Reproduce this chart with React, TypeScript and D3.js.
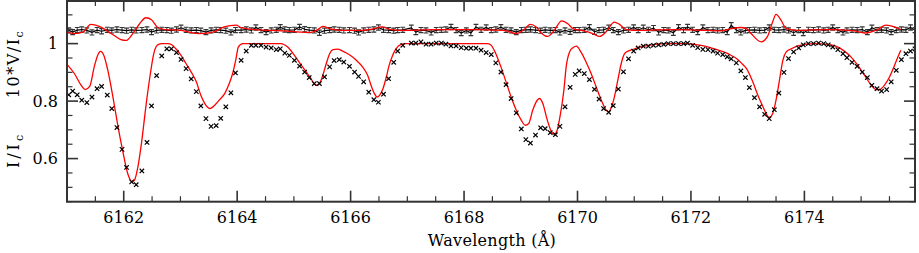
import React, { useEffect, useRef } from "react";
import * as d3 from "d3";

// observed Stokes I (crosses)
const obsWave = [
  6161.03, 6161.1, 6161.18, 6161.26, 6161.35, 6161.44, 6161.53, 6161.61, 6161.71, 6161.79,
  6161.88, 6161.97, 6162.05, 6162.14, 6162.22, 6162.32, 6162.41, 6162.49, 6162.58, 6162.67,
  6162.76, 6162.84, 6162.93, 6163.01, 6163.1, 6163.19, 6163.28, 6163.36, 6163.45, 6163.54,
  6163.63, 6163.71, 6163.8, 6163.89, 6163.97,
  6164.07, 6164.16, 6164.25, 6164.33, 6164.42, 6164.51, 6164.6, 6164.69, 6164.76, 6164.84,
  6164.92, 6165.01, 6165.1, 6165.19, 6165.27, 6165.36, 6165.45, 6165.54, 6165.63, 6165.71,
  6165.8, 6165.88, 6165.98, 6166.07, 6166.14, 6166.23, 6166.32, 6166.41, 6166.49, 6166.58,
  6166.67, 6166.76, 6166.83, 6166.92,
  6167.07, 6167.15, 6167.24, 6167.33, 6167.42, 6167.51, 6167.6, 6167.68, 6167.77, 6167.86,
  6167.95, 6168.04, 6168.12, 6168.21, 6168.3, 6168.39, 6168.48, 6168.56, 6168.65, 6168.74,
  6168.83, 6168.92, 6169.01, 6169.09, 6169.17, 6169.26, 6169.35, 6169.43, 6169.52, 6169.61,
  6169.69, 6169.78, 6169.87, 6169.96,
  6170.03, 6170.12, 6170.21, 6170.3, 6170.38, 6170.46, 6170.55, 6170.63, 6170.72, 6170.81,
  6170.9, 6170.99, 6171.07, 6171.16, 6171.25, 6171.34, 6171.43, 6171.52, 6171.6, 6171.69,
  6171.78, 6171.87, 6171.94, 6172.03, 6172.12, 6172.21, 6172.3, 6172.39, 6172.47, 6172.56,
  6172.64, 6172.71, 6172.8, 6172.88, 6172.96,
  6173.03, 6173.12, 6173.21, 6173.3, 6173.38, 6173.47, 6173.55, 6173.64, 6173.72, 6173.81,
  6173.9, 6173.98, 6174.07, 6174.16, 6174.25, 6174.34, 6174.42, 6174.5, 6174.59, 6174.68,
  6174.75, 6174.84, 6174.93, 6175.02, 6175.11, 6175.19, 6175.28, 6175.36, 6175.45, 6175.53,
  6175.62, 6175.71, 6175.79, 6175.87, 6175.95,
];

const obsI = [
  0.822, 0.835, 0.822, 0.803, 0.795, 0.814, 0.843, 0.851, 0.821, 0.774,
  0.708, 0.632, 0.569, 0.519, 0.509, 0.557, 0.656, 0.783, 0.889, 0.957,
  0.982, 0.982, 0.969, 0.945, 0.913, 0.877, 0.833, 0.783, 0.739, 0.712,
  0.715, 0.74, 0.78, 0.829, 0.898,
  0.942, 0.974, 0.994, 0.994, 0.994, 0.988, 0.985, 0.979, 0.982, 0.967,
  0.959, 0.942, 0.922, 0.901, 0.882, 0.861, 0.861, 0.884, 0.919, 0.941,
  0.944, 0.936, 0.921, 0.901, 0.886, 0.867, 0.831, 0.805, 0.796, 0.824,
  0.878, 0.935, 0.974, 0.994,
  1.002, 1.002, 1.006, 0.998, 0.998, 1.002, 1.002, 0.998, 0.992, 0.992,
  0.986, 0.984, 0.984, 0.984, 0.977, 0.969, 0.962, 0.933, 0.901, 0.857,
  0.809, 0.759, 0.703, 0.666, 0.654, 0.682, 0.707, 0.704, 0.69, 0.683,
  0.712, 0.78, 0.848, 0.893,
  0.905, 0.896, 0.875, 0.841, 0.807, 0.774, 0.761, 0.784, 0.842, 0.902,
  0.947, 0.974, 0.985, 0.991, 0.991, 0.994, 0.996, 0.997, 1.0, 1.0,
  1.0, 1.0, 1.002, 0.994, 0.986, 0.98, 0.979, 0.974, 0.967, 0.962,
  0.954, 0.947, 0.933, 0.905, 0.882,
  0.847, 0.812, 0.78, 0.754, 0.739, 0.77, 0.828, 0.9, 0.948, 0.971,
  0.985, 0.996, 1.0, 1.0, 1.002, 1.0, 0.996, 0.988, 0.979, 0.965,
  0.951, 0.935, 0.921, 0.901, 0.882, 0.855, 0.843, 0.835, 0.84, 0.867,
  0.907, 0.944, 0.965, 0.974, 0.982,
];

// observed 10*V/Ic (shifted up), same wavelengths
const obsV = [
  1.046, 1.04, 1.047, 1.049, 1.046, 1.039, 1.047, 1.043, 1.048, 1.046,
  1.049, 1.047, 1.045, 1.048, 1.046, 1.047, 1.049, 1.04, 1.046, 1.048,
  1.047, 1.045, 1.049, 1.055, 1.048, 1.046, 1.047, 1.045, 1.04, 1.046,
  1.048, 1.047, 1.045, 1.039, 1.047,
  1.047, 1.049, 1.046, 1.056, 1.047, 1.04, 1.046, 1.048, 1.057, 1.049,
  1.047, 1.048, 1.058, 1.05, 1.047, 1.046, 1.038, 1.045, 1.047, 1.049,
  1.048, 1.046, 1.047, 1.045, 1.039, 1.046, 1.048, 1.049, 1.056, 1.048,
  1.047, 1.045, 1.047, 1.048,
  1.055, 1.04, 1.047, 1.046, 1.039, 1.047, 1.048, 1.049, 1.058, 1.047,
  1.037, 1.046, 1.037, 1.058, 1.048, 1.056, 1.047, 1.049, 1.057, 1.048,
  1.046, 1.04, 1.047, 1.048, 1.049, 1.047, 1.045, 1.048, 1.046, 1.047,
  1.039, 1.046, 1.041, 1.047,
  1.047, 1.048, 1.057, 1.041, 1.047, 1.048, 1.055, 1.047, 1.04, 1.046,
  1.048, 1.056, 1.047, 1.055, 1.048, 1.054, 1.039, 1.047, 1.046, 1.038,
  1.057, 1.047, 1.058, 1.048, 1.04, 1.056, 1.047, 1.048, 1.046, 1.047,
  1.04, 1.064, 1.047, 1.039, 1.046,
  1.047, 1.048, 1.046, 1.047, 1.056, 1.048, 1.047, 1.049, 1.046, 1.038,
  1.047, 1.037, 1.048, 1.047, 1.049, 1.046, 1.048, 1.056, 1.047, 1.039,
  1.046, 1.048, 1.047, 1.049, 1.04, 1.055, 1.047, 1.048, 1.046, 1.04,
  1.047, 1.049, 1.048, 1.056, 1.047,
];
const V_ERR = 0.009;

// synthetic Stokes I (red)
const modelIWave = [
  6161.0, 6161.13, 6161.25, 6161.32, 6161.4, 6161.48, 6161.54, 6161.59, 6161.65, 6161.72,
  6161.81, 6161.89, 6161.98, 6162.07, 6162.15, 6162.19, 6162.25, 6162.32, 6162.39, 6162.47,
  6162.53, 6162.59, 6162.66, 6162.78, 6162.84, 6162.92, 6163.01, 6163.1, 6163.19, 6163.28,
  6163.36, 6163.45, 6163.52, 6163.6, 6163.69, 6163.78, 6163.86, 6163.92, 6163.98, 6164.02,
  6164.1, 6164.3, 6164.54, 6164.77, 6164.89, 6165.01, 6165.13, 6165.22, 6165.3, 6165.39,
  6165.45, 6165.51, 6165.57, 6165.63, 6165.69, 6165.77, 6165.86, 6165.98, 6166.1, 6166.21,
  6166.3, 6166.36, 6166.42, 6166.47, 6166.51, 6166.57, 6166.63, 6166.68, 6166.74, 6166.8,
  6166.89, 6166.98, 6167.5, 6168.0, 6168.42, 6168.48, 6168.56, 6168.65, 6168.74, 6168.83,
  6168.92, 6169.01, 6169.08, 6169.14, 6169.21, 6169.29, 6169.33, 6169.39, 6169.46, 6169.53,
  6169.59, 6169.64, 6169.7, 6169.76, 6169.8, 6169.86, 6169.92, 6169.98, 6170.06, 6170.15,
  6170.24, 6170.33, 6170.42, 6170.5, 6170.55, 6170.6, 6170.65, 6170.71, 6170.77, 6170.83,
  6170.89, 6170.97, 6171.06, 6171.18, 6171.36, 6171.59, 6171.89, 6172.18, 6172.41, 6172.65,
  6172.83, 6172.91, 6172.98, 6173.09, 6173.18, 6173.27, 6173.34, 6173.38, 6173.44, 6173.5,
  6173.56, 6173.62, 6173.68, 6173.77, 6173.88, 6174.0, 6174.18, 6174.41, 6174.59, 6174.71,
  6174.82, 6174.94, 6175.06, 6175.18, 6175.26, 6175.32, 6175.41, 6175.5, 6175.59, 6175.66,
  6175.7,
];
const modelI = [
  0.928, 0.896, 0.855, 0.84, 0.851, 0.919, 0.959, 0.973, 0.959, 0.907,
  0.814, 0.722, 0.629, 0.548, 0.519, 0.525, 0.571, 0.664, 0.78, 0.896,
  0.965, 0.994, 1.0, 1.0, 0.997, 0.982, 0.959, 0.93, 0.901, 0.867,
  0.82, 0.785, 0.774, 0.785, 0.805, 0.826, 0.861, 0.896, 0.948, 0.988,
  1.0, 1.0, 1.0, 1.0, 0.988, 0.959, 0.925, 0.901, 0.878, 0.855,
  0.861, 0.89, 0.93, 0.965, 0.979, 0.981, 0.974, 0.961, 0.942, 0.919,
  0.89, 0.855, 0.826, 0.814, 0.82, 0.843, 0.884, 0.925, 0.959, 0.982,
  0.997, 1.0, 1.0, 1.0, 1.0, 0.994, 0.965, 0.919, 0.867, 0.814,
  0.768, 0.733, 0.716, 0.722, 0.768, 0.803, 0.809, 0.791, 0.739, 0.698,
  0.684, 0.698, 0.756, 0.838, 0.919, 0.971, 0.986, 0.991, 0.971, 0.936,
  0.896, 0.849, 0.803, 0.77, 0.762, 0.78, 0.814, 0.872, 0.93, 0.965,
  0.974, 0.979, 0.986, 0.991, 0.997, 1.0, 1.0, 0.994, 0.982, 0.965,
  0.944, 0.928, 0.913, 0.867, 0.82, 0.78, 0.751, 0.743, 0.756, 0.803,
  0.872, 0.942, 0.971, 0.982, 0.992, 0.997, 1.0, 0.997, 0.988, 0.973,
  0.954, 0.925, 0.89, 0.855, 0.84, 0.84, 0.855, 0.884, 0.925, 0.959,
  0.977,
];

// synthetic 10*V/Ic (red)
const modelVWave = [
  6161.0, 6161.13, 6161.28, 6161.42, 6161.57, 6161.78, 6161.95, 6162.04, 6162.16, 6162.28,
  6162.39, 6162.49, 6162.6, 6162.72, 6163.01, 6163.31, 6163.54, 6163.77, 6163.98, 6164.07,
  6164.3, 6164.83, 6165.12, 6165.3, 6165.42, 6165.51, 6165.63, 6165.83, 6166.19, 6166.42,
  6166.54, 6166.71, 6166.98, 6167.54, 6168.12, 6168.71, 6168.92, 6169.04, 6169.17, 6169.27,
  6169.36, 6169.47, 6169.59, 6169.72, 6169.83, 6169.92, 6169.98, 6170.12, 6170.27, 6170.39,
  6170.5, 6170.65, 6170.74, 6170.86, 6171.12, 6171.71, 6172.3, 6172.53, 6172.71, 6172.88,
  6172.98, 6173.06, 6173.24, 6173.35, 6173.44, 6173.5, 6173.59, 6173.68, 6173.88, 6174.41,
  6174.88, 6175.06, 6175.29, 6175.44, 6175.59, 6175.7,
];
const modelV = [
  1.04, 1.035, 1.04, 1.067, 1.06, 1.035, 1.014, 1.011, 1.035, 1.069,
  1.09, 1.083, 1.056, 1.049, 1.046, 1.035, 1.038, 1.058, 1.064, 1.056,
  1.049, 1.044, 1.04, 1.039, 1.049, 1.06, 1.052, 1.046, 1.046, 1.052,
  1.058, 1.049, 1.046, 1.049, 1.049, 1.046, 1.035, 1.046, 1.067, 1.058,
  1.037, 1.025, 1.046, 1.079, 1.069, 1.052, 1.049, 1.044, 1.035, 1.025,
  1.04, 1.075, 1.067, 1.049, 1.046, 1.049, 1.046, 1.044, 1.052, 1.056,
  1.052, 1.035, 1.006, 1.025, 1.075, 1.102, 1.081, 1.052, 1.046, 1.049,
  1.044, 1.037, 1.049, 1.064, 1.058, 1.049,
];

const xLabels = [6162, 6164, 6166, 6168, 6170, 6172, 6174];
const yLabels = [0.6, 0.8, 1];

const WIDTH = 919;
const HEIGHT = 253;
const FONT = "'DejaVu Serif', serif";

const App: React.FC = () => {
  const svgRef = useRef<SVGSVGElement>(null);

  useEffect(() => {
    if (!svgRef.current) return;
    const svg = d3.select(svgRef.current);
    svg.selectAll("*").remove();

    const left = 67;
    const right = 915;
    const top = 0.5;
    const bottom = 201.7;

    const x = d3.scaleLinear().domain([6161, 6175.95]).range([left, right]);
    const y = d3.scaleLinear().domain([0.45, 1.15]).range([bottom, top]);

    svg
      .append("defs")
      .append("clipPath")
      .attr("id", "plot-clip")
      .append("rect")
      .attr("x", left)
      .attr("y", top)
      .attr("width", right - left)
      .attr("height", bottom - top);

    const plot = svg.append("g").attr("clip-path", "url(#plot-clip)");

    // observed V with error bars
    const vPts = obsWave.map((w, i) => ({ w, v: obsV[i] }));
    const vg = plot.append("g");
    vg.selectAll("line.err")
      .data(vPts)
      .enter()
      .append("line")
      .attr("x1", (d) => x(d.w))
      .attr("x2", (d) => x(d.w))
      .attr("y1", (d) => y(d.v - V_ERR))
      .attr("y2", (d) => y(d.v + V_ERR))
      .attr("stroke", "#333")
      .attr("stroke-width", 1);
    [-1, 1].forEach((s) => {
      vg.selectAll(null)
        .data(vPts)
        .enter()
        .append("line")
        .attr("x1", (d) => x(d.w) - 2.4)
        .attr("x2", (d) => x(d.w) + 2.4)
        .attr("y1", (d) => y(d.v + s * V_ERR))
        .attr("y2", (d) => y(d.v + s * V_ERR))
        .attr("stroke", "#333")
        .attr("stroke-width", 1.2);
    });
    const vLine = d3
      .line<{ w: number; v: number }>()
      .x((d) => x(d.w))
      .y((d) => y(d.v));
    vg.append("path")
      .attr("d", vLine(vPts))
      .attr("fill", "none")
      .attr("stroke", "#000")
      .attr("stroke-width", 1.2);

    // red model curves
    const curve = d3
      .line<[number, number]>()
      .x((d) => x(d[0]))
      .y((d) => y(d[1]))
      .curve(d3.curveMonotoneX);
    plot
      .append("path")
      .attr("d", curve(modelVWave.map((w, i) => [w, modelV[i]] as [number, number])))
      .attr("fill", "none")
      .attr("stroke", "#ff0000")
      .attr("stroke-width", 1.3);
    plot
      .append("path")
      .attr("d", curve(modelIWave.map((w, i) => [w, modelI[i]] as [number, number])))
      .attr("fill", "none")
      .attr("stroke", "#ff0000")
      .attr("stroke-width", 1.3);

    // observed I crosses
    const s = 2.2;
    plot
      .selectAll("path.cross")
      .data(obsWave.map((w, i) => ({ w, v: obsI[i] })))
      .enter()
      .append("path")
      .attr("transform", (d) => `translate(${x(d.w)},${y(d.v)})`)
      .attr("d", `M${-s},${-s}L${s},${s}M${-s},${s}L${s},${-s}`)
      .attr("stroke", "#000")
      .attr("stroke-width", 1.2)
      .attr("fill", "none");

    // frame + ticks on all four sides
    const axes = svg.append("g").attr("stroke", "#333");
    const xMinor = d3.range(6161, 6176, 0.5);
    const yMinor = d3.range(0.45, 1.151, 0.05);
    xMinor.forEach((t) => {
      const major = Math.abs(t / 2 - Math.round(t / 2)) < 1e-6;
      const len = major ? 11 : 5.5;
      axes.append("line").attr("x1", x(t)).attr("x2", x(t)).attr("y1", bottom).attr("y2", bottom - len).attr("stroke-width", major ? 1.6 : 1.2);
      axes.append("line").attr("x1", x(t)).attr("x2", x(t)).attr("y1", top).attr("y2", top + len).attr("stroke-width", major ? 1.6 : 1.2);
    });
    yMinor.forEach((t) => {
      const major = yLabels.some((m) => Math.abs(m - t) < 1e-6);
      const len = major ? 11 : 5.5;
      axes.append("line").attr("x1", left).attr("x2", left + len).attr("y1", y(t)).attr("y2", y(t)).attr("stroke-width", major ? 1.6 : 1.2);
      axes.append("line").attr("x1", right).attr("x2", right - len).attr("y1", y(t)).attr("y2", y(t)).attr("stroke-width", major ? 1.6 : 1.2);
    });
    axes
      .append("rect")
      .attr("x", left)
      .attr("y", top + 0.5)
      .attr("width", right - left)
      .attr("height", bottom - top - 0.5)
      .attr("fill", "none")
      .attr("stroke-width", 2);

    // tick labels
    svg
      .selectAll("text.xl")
      .data(xLabels)
      .enter()
      .append("text")
      .attr("x", (d) => x(d))
      .attr("y", 223)
      .attr("text-anchor", "middle")
      .style("font-family", FONT)
      .style("font-size", "16px")
      .text((d) => d);
    svg
      .selectAll("text.yl")
      .data(yLabels)
      .enter()
      .append("text")
      .attr("x", 58)
      .attr("y", (d) => y(d) + 5.5)
      .attr("text-anchor", "end")
      .style("font-family", FONT)
      .style("font-size", "16px")
      .text((d) => d3.format("~g")(d));

    // axis titles
    svg
      .append("text")
      .attr("x", 492)
      .attr("y", 246)
      .attr("text-anchor", "middle")
      .style("font-family", FONT)
      .style("font-size", "16px")
      .style("letter-spacing", "0.3px")
      .text("Wavelength (Å)");

    const yTitle = (cx: number, cy: number, main: string, spacing: number) => {
      const t = svg
        .append("text")
        .attr("transform", `translate(${cx},${cy}) rotate(-90)`)
        .attr("text-anchor", "middle")
        .style("font-family", FONT)
        .style("font-size", "16px")
        .style("letter-spacing", `${spacing}px`);
      t.append("tspan").text(main);
      t.append("tspan").attr("dy", 4).style("font-size", "11px").text("c");
    };
    yTitle(19, 64, "10*V/I", 1.5);
    yTitle(19, 150, "I/I", 3);
  }, []);

  return (
    <svg
      ref={svgRef}
      width={WIDTH}
      height={HEIGHT}
      style={{ position: "absolute", left: 0, top: 0, background: "#fff" }}
    />
  );
};

export default App;
